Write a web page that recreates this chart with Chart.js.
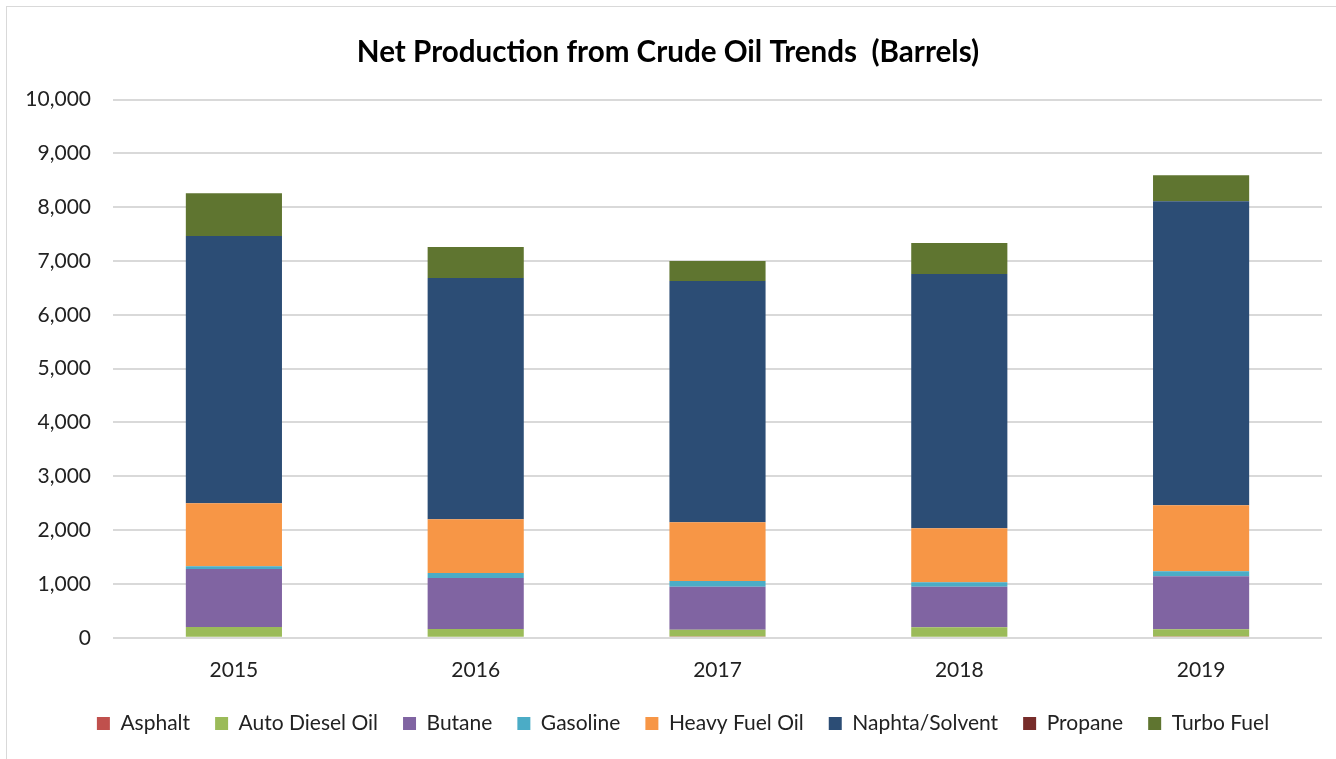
<!DOCTYPE html>
<html>
<head>
<meta charset="utf-8">
<script src="https://cdn.jsdelivr.net/npm/chart.js@4/dist/chart.umd.min.js"></script>
<style>
html,body{margin:0;padding:0;background:#fff;overflow:hidden;}
#frame{position:absolute;left:6px;top:6px;width:1360px;height:800px;border:1px solid #d9d9d9;box-sizing:border-box;}
#wrap{position:absolute;left:0;top:0;width:1336px;height:759px;}
</style>
</head>
<body>
<div id="frame"></div>
<div id="wrap"><canvas id="c" width="1336" height="759"></canvas></div>
<script>
const categories = ["2015","2016","2017","2018","2019"];
const asphalt   = [0, 0, 25, 0, 25];
const autoDiesel= [200, 165, 123, 198, 136];
const butane    = [1080, 945, 802, 752, 981];
const gasoline  = [50, 93, 105, 81, 93];
const heavyFuel = [1170, 1000, 1093, 1006, 1228];
const naphtha   = [4963, 4481, 4482, 4722, 5648];
const propane   = [0, 0, 0, 0, 0];
const turboFuel = [796, 574, 370, 574, 482];
const yTicks = [0,1000,2000,3000,4000,5000,6000,7000,8000,9000,10000];

const seriesNames = ["Asphalt","Auto Diesel Oil","Butane","Gasoline","Heavy Fuel Oil","Naphta/Solvent","Propane","Turbo Fuel"];
const seriesData = [asphalt, autoDiesel, butane, gasoline, heavyFuel, naphtha, propane, turboFuel];
const colors = ["#C0504D","#9BBB59","#8064A2","#4BACC6","#F79646","#2C4D75","#772C2A","#5F7530"];

const FONT = "Lato, 'Open Sans', sans-serif";

const boxShift = {
  id: 'boxShift',
  afterLayout(chart) {
    const l = chart.legend;
    if (l) { l.top -= 7; l.bottom -= 7; l.left += 22; l.right += 22; }
    const t = chart.titleBlock;
    if (t) { t.left += 7; t.right += 7; }
  }
};

new Chart(document.getElementById('c'), {
  type: 'bar',
  data: {
    labels: categories,
    datasets: seriesNames.map((n,i)=>({
      label: n,
      data: seriesData[i],
      backgroundColor: colors[i],
      borderWidth: 0,
      categoryPercentage: 0.8,
      barPercentage: 0.497
    }))
  },
  plugins: [boxShift],
  options: {
    responsive: false,
    animation: false,
    layout: { padding: { left: 0, right: 14, top: 22, bottom: 8 } },
    plugins: {
      title: {
        display: true,
        text: "Net Production from Crude Oil Trends  (Barrels)",
        color: "#000",
        font: { family: FONT, size: 29.6, weight: 'bold' },
        padding: { top: 13, bottom: 29 }
      },
      legend: {
        position: 'bottom',
        labels: {
          color: "#222",
          font: { family: FONT, size: 21 },
          boxWidth: 13,
          boxHeight: 13,
          padding: 25
        }
      },
      tooltip: { enabled: false }
    },
    scales: {
      x: {
        stacked: true,
        grid: { display: false },
        border: { display: false },
        ticks: { color: "#222", font: { family: FONT, size: 21 }, padding: 12 }
      },
      y: {
        stacked: true,
        min: 0, max: 10000,
        afterFit: (s) => { s.width = 113; },
        afterBuildTicks: (s) => { s.ticks = yTicks.map(v=>({value:v})); },
        grid: { color: "#d9d9d9", lineWidth: 2, drawTicks: false },
        border: { display: false },
        ticks: {
          color: "#222",
          font: { family: FONT, size: 21 },
          padding: 22,
          callback: (v) => v.toLocaleString('en-US')
        }
      }
    }
  }
});
</script>
</body>
</html>
